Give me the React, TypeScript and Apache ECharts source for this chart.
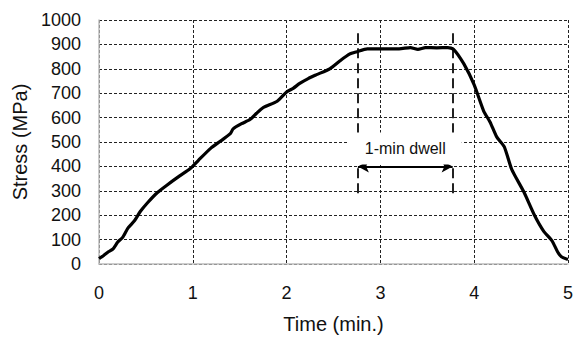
import React, { useEffect, useRef } from "react";
import * as echarts from "echarts";

const timeMin: number[] = [
  0.0, 0.05, 0.1, 0.15, 0.2, 0.25, 0.31, 0.38, 0.44, 0.52, 0.62, 0.72, 0.86, 0.97,
  1.06, 1.19, 1.3, 1.4, 1.43, 1.52, 1.61, 1.68, 1.75, 1.9, 2.0, 2.07, 2.14, 2.23,
  2.32, 2.46, 2.57, 2.67, 2.75, 2.86, 3.0, 3.2, 3.32, 3.4, 3.48, 3.6, 3.72, 3.78,
  3.89, 4.0, 4.1, 4.17, 4.24, 4.32, 4.4, 4.53, 4.64, 4.74, 4.83, 4.89, 4.93, 5.0,
];
const stressMPa: number[] = [
  22, 35, 50, 62, 90, 108, 148, 178, 215, 252, 292, 322, 361, 390,
  425, 474, 505, 534, 554, 575, 592, 618, 641, 667, 705, 720, 740, 760,
  776, 800, 833, 860, 870, 882, 882, 882, 887, 880, 887, 886, 887, 880,
  820, 734, 628, 581, 521, 481, 388, 295, 202, 135, 95, 49, 30, 18,
];

const dwellStart = 2.76;
const dwellEnd = 3.77;
const dwellLineBottom = 290;
const dwellLineTop = 950;
const arrowLevel = 400;
const dwellLabel = "1-min dwell";

const xTitle = "Time (min.)";
const yTitle = "Stress (MPa)";

const FONT = "'Liberation Sans', Arial, sans-serif";

export default function App() {
  const ref = useRef<HTMLDivElement>(null);
  useEffect(() => {
    if (!ref.current) return;
    const chart = echarts.init(ref.current, undefined, { renderer: "svg" });
    const data = timeMin.map((t, i) => [t, stressMPa[i]]);
    chart.setOption({
      animation: false,
      backgroundColor: "#fff",
      grid: { left: 99, right: 8, top: 20, bottom: 68.5 },
      xAxis: {
        type: "value",
        min: 0,
        max: 5,
        interval: 1,
        name: xTitle,
        nameLocation: "middle",
        nameGap: 50,
        nameTextStyle: { fontFamily: FONT, fontSize: 20, color: "#111" },
        axisLine: { show: true, lineStyle: { color: "#bdbdbd", width: 1.5 } },
        axisTick: { show: false },
        axisLabel: { fontFamily: FONT, fontSize: 18, color: "#111", margin: 20, formatter: (v: number) => String(v) },
        splitLine: { show: true, lineStyle: { color: "#222", width: 1, type: [3, 2] } },
      },
      yAxis: {
        type: "value",
        min: 0,
        max: 1000,
        interval: 100,
        name: yTitle,
        nameLocation: "middle",
        nameGap: 57,
        nameTextStyle: { fontFamily: FONT, fontSize: 20, color: "#111" },
        axisLine: { show: true, lineStyle: { color: "#bdbdbd", width: 1.5 } },
        axisTick: { show: false },
        axisLabel: { fontFamily: FONT, fontSize: 18, color: "#111", margin: 18, formatter: (v: number) => String(v) },
        splitLine: { show: true, lineStyle: { color: "#222", width: 1, type: [3, 2] } },
      },
      series: [
        {
          type: "line",
          data,
          showSymbol: false,
          symbol: "none",
          smooth: 0.2,
          lineStyle: { color: "#000", width: 3.2 },
          z: 5,
        },
        {
          type: "line",
          data: [],
          z: 3,
          markLine: {
            silent: true,
            animation: false,
            symbol: ["arrow", "arrow"],
            symbolSize: [9, 11],
            lineStyle: { color: "#000", width: 2, type: "solid" },
            label: {
              show: true,
              position: "insideMiddleTop",
              distance: 2,
              formatter: dwellLabel,
              fontFamily: FONT,
              fontSize: 16,
              color: "#111",
              backgroundColor: "#fff",
              padding: [8, 16],
            },
            data: [[{ coord: [dwellStart, arrowLevel] }, { coord: [dwellEnd, arrowLevel] }]],
          },
        },
        {
          type: "line",
          data: [],
          z: 4,
          markLine: {
            silent: true,
            animation: false,
            symbol: ["none", "none"],
            lineStyle: { color: "#222", width: 2, type: [10, 5] },
            label: { show: false },
            data: [
              [{ coord: [dwellStart, dwellLineBottom] }, { coord: [dwellStart, dwellLineTop] }],
              [{ coord: [dwellEnd, dwellLineBottom] }, { coord: [dwellEnd, dwellLineTop] }],
            ],
          },
        },
      ],
    });
    return () => chart.dispose();
  }, []);
  return (
    <div
      ref={ref}
      style={{ position: "fixed", left: 0, top: 0, width: 576, height: 339 }}
    />
  );
}
